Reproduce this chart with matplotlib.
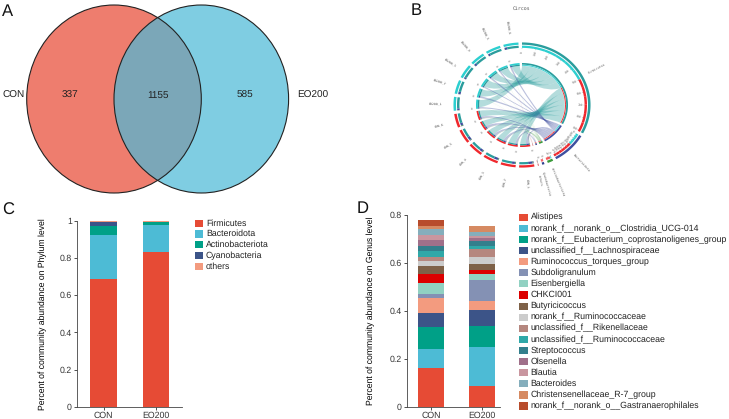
import numpy as np
import matplotlib
matplotlib.use('Agg')
import matplotlib.pyplot as plt
from matplotlib.patches import Ellipse, Rectangle, PathPatch, Polygon
from matplotlib.path import Path

plt.rcParams['font.family'] = ['Liberation Sans', 'DejaVu Sans']
plt.rcParams['text.hinting'] = 'none'
plt.rcParams['text.hinting_factor'] = 8

# venn counts
venn_names = ['CON', 'EO200']
venn_counts = [337, 1155, 585]

# phylum stack (panel C)
groups = ['CON', 'EO200']
phyla = ['Firmicutes', 'Bacteroidota', 'Actinobacteriota', 'Cyanobacteria', 'others']
phyla_con = [0.685, 0.238, 0.047, 0.025, 0.005]
phyla_eo = [0.830, 0.147, 0.018, 0.000, 0.005]
phyla_colors = ['#E64B35', '#4DBBD5', '#00A087', '#3C5488', '#F39B7F']

# genus stack (panel D)
genera = ['Alistipes', 'norank_f__norank_o__Clostridia_UCG-014',
          'norank_f__Eubacterium_coprostanoligenes_group',
          'unclassified_f__Lachnospiraceae', 'Ruminococcus_torques_group',
          'Subdoligranulum', 'Eisenbergiella', 'CHKCI001', 'Butyricicoccus',
          'norank_f__Ruminococcaceae', 'unclassified_f__Rikenellaceae',
          'unclassified_f__Ruminococcaceae', 'Streptococcus', 'Olsenella',
          'Blautia', 'Bacteroides', 'Christensenellaceae_R-7_group',
          'norank_f__norank_o__Gastranaerophilales']
genera_con = [0.163, 0.078, 0.093, 0.056, 0.062, 0.018, 0.045, 0.040, 0.032,
              0.021, 0.015, 0.028, 0.018, 0.027, 0.020, 0.024, 0.014, 0.026]
genera_eo = [0.086, 0.163, 0.089, 0.065, 0.038, 0.088, 0.026, 0.017, 0.023,
             0.031, 0.031, 0.015, 0.021, 0.010, 0.009, 0.017, 0.025, 0.000]
genera_colors = ['#E64B35', '#4DBBD5', '#00A087', '#3C5488', '#F39B7F', '#8491B4',
                 '#91D1C2', '#DC0000', '#7E6148', '#CCCCCC', '#B5877F', '#2FA8A8',
                 '#337F8C', '#A0708A', '#C9969F', '#85AEBC', '#D68A62', '#B84C2C']

# circos: abundance of each phylum in each sample
samples = ['CON_1', 'CON_2', 'CON_3', 'CON_4', 'CON_5', 'CON_6',
           'EO200_1', 'EO200_2', 'EO200_3', 'EO200_4', 'EO200_5', 'EO200_6']
circos_matrix = np.array([
    [0.62, 0.30, 0.05, 0.03, 0.005],
    [0.72, 0.20, 0.05, 0.02, 0.005],
    [0.66, 0.27, 0.04, 0.03, 0.005],
    [0.70, 0.22, 0.05, 0.02, 0.005],
    [0.68, 0.25, 0.04, 0.03, 0.005],
    [0.73, 0.19, 0.05, 0.02, 0.005],
    [0.84, 0.14, 0.015, 0.0, 0.005],
    [0.80, 0.18, 0.015, 0.0, 0.005],
    [0.86, 0.12, 0.02, 0.0, 0.005],
    [0.82, 0.16, 0.015, 0.0, 0.005],
    [0.85, 0.13, 0.02, 0.0, 0.005],
    [0.81, 0.17, 0.015, 0.0, 0.005],
])
phylum_ring = ['#2A9D9D', '#3F4FA0', '#3A9A3A', '#2F3F8F', '#C8505A']
tick_step = [1, 0.2, 0.2, 0.2, 0.2]
phylum_label_theta = [62, 137, 157, 164, 168]
phylum_label_r = [1.85, 1.9, 1.98, 1.94, 1.83]
group_ring = {'CON': '#F0282D', 'EO200': '#2CCFD0'}

W, H = 729, 419
fig = plt.figure(figsize=(W / 100, H / 100), dpi=100)
bg = fig.add_axes([0, 0, 1, 1])
bg.set_xlim(0, W)
bg.set_ylim(H, 0)
bg.axis('off')

# ---- panel letters
for letter, x, y in [('A', 2, 12), ('B', 411, 11), ('C', 2, 210), ('D', 357, 209)]:
    bg.text(x, y, letter, fontsize=12, va='center', ha='left', color='#111111')

# ---- A: venn
bg.add_patch(Ellipse((114, 99), 174.6, 188, fc='#EE7D6E', ec='none'))
bg.add_patch(Ellipse((201.3, 99), 174.6, 188, fc='#7FCDE2', ec='none'))
both = Ellipse((114, 99), 174.6, 188, fc='#7BA7B8', ec='none')
bg.add_patch(both)
both.set_clip_path(Ellipse((201.3, 99), 174.6, 188, transform=bg.transData))
for cx in (114, 201.3):
    bg.add_patch(Ellipse((cx, 99), 174.6, 188, fc='none', ec='#222222', lw=0.8))
for x, n in zip((70, 157.5, 244.5), venn_counts):
    bg.text(x, 95.5, str(n), fontsize=7.2, ha='center', va='center', color='#222222')
bg.text(2.5, 95.5, venn_names[0], fontsize=7.2, ha='left', va='center', color='#222222')
bg.text(297, 95.5, venn_names[1], fontsize=7.2, ha='left', va='center', color='#222222')

# ---- B: circos
cx, cy, rx, ry = 522, 105, 46, 42
gap = 3.0
total = circos_matrix.sum() * 2
deg_per_unit = (360 - gap * (len(samples) + len(phyla))) / total


def pt(theta, r):
    t = np.radians(theta)
    return cx + rx * r * np.sin(t), cy - ry * r * np.cos(t)


def band(a0, a1, r0, r1, color):
    th = np.linspace(a0, a1, max(int(abs(a1 - a0)) + 2, 2))
    xo, yo = pt(th, r1)
    xi, yi = pt(th[::-1], r0)
    xy = np.column_stack([np.r_[xo, xi], np.r_[yo, yi]])
    bg.add_patch(Polygon(xy, closed=True, fc=color, ec='none', zorder=3))


def arc_pts(a0, a1):
    th = np.linspace(a0, a1, max(int(abs(a1 - a0)) + 2, 2))
    x, y = pt(th, 0.93)
    return list(zip(x, y))


def chord(s0, s1, p0, p1, color):
    verts, codes = [], []
    sarc = arc_pts(s0, s1)
    parc = arc_pts(p0, p1)
    verts += sarc
    codes += [Path.MOVETO] + [Path.LINETO] * (len(sarc) - 1)
    verts += [pt(s1, 0.6), pt(p0, 0.6), parc[0]]
    codes += [Path.CURVE4] * 3
    verts += parc[1:]
    codes += [Path.LINETO] * (len(parc) - 1)
    verts += [pt(p1, 0.6), pt(s0, 0.6), sarc[0]]
    codes += [Path.CURVE4] * 3
    bg.add_patch(PathPatch(Path(verts, codes), fc=color, ec='none', alpha=0.35, zorder=2))


def radial_text(theta, r, s, size, color='#555555'):
    x, y = pt(theta, r)
    rot = 90 - theta if theta <= 180 else 270 - theta
    bg.text(x, y, s, fontsize=size, rotation=rot, ha='center', va='center',
            rotation_mode='anchor', color=color, family='DejaVu Sans Mono')


# phylum sectors go clockwise from the top, samples fill the rest
phylum_start = []
pos = 0.0
for j in range(len(phyla)):
    phylum_start.append(pos)
    pos += circos_matrix[:, j].sum() * deg_per_unit + gap
sample_start = []
for i in range(len(samples)):
    sample_start.append(pos)
    pos += circos_matrix[i].sum() * deg_per_unit + gap

# EO200 links sit first on a phylum sector, CON links after them
link_order = list(range(6, 12)) + list(range(0, 6))

chords = []
for j in range(len(phyla)):
    a = phylum_start[j]
    a_end = a + circos_matrix[:, j].sum() * deg_per_unit
    band(a, a_end, 1.435, 1.49, phylum_ring[j])
    band(a, a_end, 0.96, 1.0, phylum_ring[j])
    tick = 0.0
    while tick * deg_per_unit <= a_end - a + 1e-6:
        th = a + tick * deg_per_unit
        band(th - 0.2, th + 0.2, 1.34, 1.36, '#888888')
        radial_text(th, 1.27, '%d' % round(tick * 100), 2.2, '#777777')
        tick += tick_step[j]
    for i in link_order:
        w = circos_matrix[i, j] * deg_per_unit
        if w <= 0:
            continue
        col = group_ring[samples[i].split('_')[0]]
        band(a, a + w, 1.36, 1.413, col)
        band(a, a + w, 0.935, 0.955, col)
        chords.append((i, j, a, a + w))
        a += w
    radial_text(phylum_label_theta[j], phylum_label_r[j], phyla[j], 2.3)

sample_pos = {}
for i, name in enumerate(samples):
    col = group_ring[name.split('_')[0]]
    a = sample_start[i]
    a_end = a + circos_matrix[i].sum() * deg_per_unit
    band(a, a_end, 1.435, 1.49, col)
    band(a, a_end, 0.96, 1.0, col)
    # rarest phyla sit at the start of the sector, Firmicutes at the end
    for j in range(len(phyla) - 1, -1, -1):
        w = circos_matrix[i, j] * deg_per_unit
        if w <= 0:
            continue
        band(a, a + w, 1.36, 1.413, phylum_ring[j])
        band(a, a + w, 0.93, 0.96, phylum_ring[j])
        sample_pos[(i, j)] = (a, a + w)
        a += w
    radial_text(sample_start[i], 1.09, '0', 2.2, '#777777')
    radial_text((sample_start[i] + a_end) / 2, 1.87, name, 2.3)

for i, j, p0, p1 in sorted(chords, key=lambda c: c[1]):
    s0, s1 = sample_pos[(i, j)]
    chord(s0, s1, p0, p1, phylum_ring[j])

bg.text(521.5, 8.3, 'Circos', fontsize=3.5, ha='center', va='center', color='#555555',
        family='DejaVu Sans Mono')


# ---- C and D: stacks
def stacked(box, values, colors, ylim, yticks, ylabels, xlim, width, ylabel, label_x):
    ax = fig.add_axes([box[0] / W, 1 - box[3] / H, (box[2] - box[0]) / W, (box[3] - box[1]) / H])
    bottom = np.zeros(len(groups))
    for vals, col in zip(values, colors):
        ax.bar([0, 1], vals, width, bottom=bottom, color=col, lw=0)
        bottom += np.array(vals)
    ax.set_xlim(*xlim)
    ax.set_ylim(*ylim)
    ax.set_xticks([0, 1])
    ax.set_xticklabels(groups)
    ax.set_yticks(yticks)
    ax.set_yticklabels(ylabels)
    ax.tick_params(labelsize=6.3, length=2.5, width=0.6, pad=1.2, colors='#333333')
    ax.spines['top'].set_visible(False)
    ax.spines['right'].set_visible(False)
    for side in ('left', 'bottom'):
        ax.spines[side].set_linewidth(0.6)
        ax.spines[side].set_color('#444444')
    ax.set_facecolor('none')
    ax.set_ylabel(ylabel, fontsize=6.2, color='black')
    ax.yaxis.set_label_coords((label_x - box[0]) / (box[2] - box[0]), 0.5)
    return ax


stacked((77, 220.7, 182, 406.7), list(zip(phyla_con, phyla_eo)), phyla_colors, (0, 1),
        [0, 0.2, 0.4, 0.6, 0.8, 1], ['0', '0.2', '0.4', '0.6', '0.8', '1'],
        (-0.505, 1.495), 0.5, 'Percent of community abundance on Phylum level', 47)
stacked((406.7, 215, 500, 406.7), list(zip(genera_con, genera_eo)), genera_colors, (0, 0.8),
        [0, 0.2, 0.4, 0.6, 0.8], ['0', '0.2', '0.4', '0.6', '0.8'],
        (-0.476, 1.353), 0.51, 'Percent of community abundance on Genus level', 375)

# hand placed legends
for k, (name, col) in enumerate(zip(phyla, phyla_colors)):
    y = 223.3 + k * 10.7
    bg.add_patch(Rectangle((195, y - 3.6), 8.5, 7.2, fc=col, ec='none'))
    bg.text(206, y, name, fontsize=6.3, va='center', ha='left', color='#222222')
for k, (name, col) in enumerate(zip(genera, genera_colors)):
    y = 217.3 + k * 11.1
    bg.add_patch(Rectangle((519.5, y - 3.6), 8.5, 7.2, fc=col, ec='none'))
    bg.text(530.5, y, name, fontsize=6.3, va='center', ha='left', color='#222222')

fig.savefig('out.png', dpi=100)
